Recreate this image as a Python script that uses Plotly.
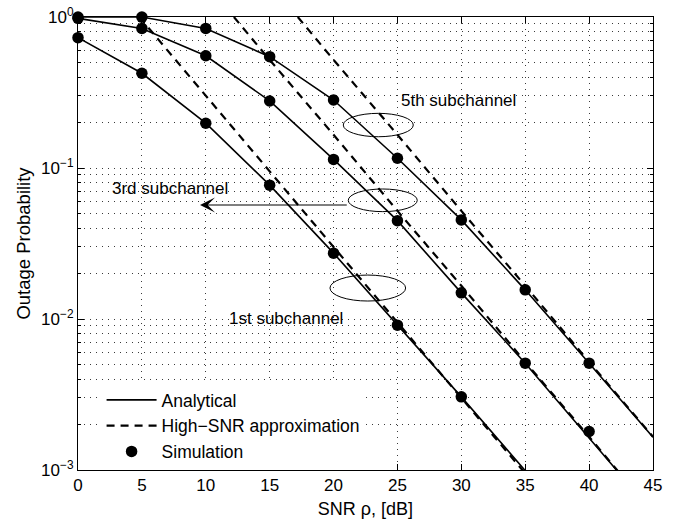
import math
import plotly.graph_objects as go

# ---------------- data ----------------
snr_db = [0, 5, 10, 15, 20, 25, 30, 35, 40, 45]

# Analytical curves
ana_1st_x = [0, 5, 10, 15, 20, 25, 30, 35]
ana_1st = [0.73, 0.424, 0.198, 0.077, 0.0273, 0.0091, 0.00305, 0.00099]
ana_3rd_x = snr_db
ana_3rd = [0.98, 0.84, 0.554, 0.278, 0.114, 0.0448, 0.0149, 0.0051, 0.00163, 0.00052]
ana_5th_x = snr_db
ana_5th = [0.999, 0.999, 0.84, 0.546, 0.282, 0.116, 0.0453, 0.0156, 0.0051, 0.00165]

# High-SNR approximations
hs_1st_x = [4.8, 10, 15, 20, 25, 30, 35]
hs_1st = [1.0, 0.30, 0.095, 0.030, 0.0095, 0.0030, 0.00095]
hs_3rd_x = [12.2, 15, 20, 25, 30, 35, 40, 45]
hs_3rd = [1.0, 0.52, 0.166, 0.052, 0.0166, 0.0052, 0.00166, 0.00052]
hs_5th_x = [17.2, 20, 25, 30, 35, 40, 45]
hs_5th = [1.0, 0.52, 0.166, 0.052, 0.0166, 0.0052, 0.00166]

# Simulation points
sim_1st_x = [0, 5, 10, 15, 20, 25, 30]
sim_1st = [0.73, 0.424, 0.198, 0.077, 0.0273, 0.0091, 0.00305]
sim_3rd_x = [0, 5, 10, 15, 20, 25, 30, 35, 40]
sim_3rd = [0.98, 0.84, 0.554, 0.278, 0.114, 0.0448, 0.0149, 0.0051, 0.0018]
sim_5th_x = [0, 5, 10, 15, 20, 25, 30, 35, 40]
sim_5th = [0.999, 0.999, 0.84, 0.546, 0.282, 0.116, 0.0453, 0.0156, 0.0051]

x_ticks = [0, 5, 10, 15, 20, 25, 30, 35, 40, 45]
y_ticks = [1e-3, 1e-2, 1e-1, 1]
y_ticktext = ["10<sup>−3</sup>", "10<sup>−2</sup>", "10<sup>−1</sup>", "10<sup>0</sup>"]
y_minor = [m * 10.0 ** e for e in (-3, -2, -1) for m in range(2, 10)]

labels = ["1st subchannel", "3rd subchannel", "5th subchannel"]

FONT = "Liberation Sans, Arial, Helvetica, sans-serif"
GRID = "#3a3a3a"

fig = go.Figure()

for i, (xx, yy) in enumerate([(ana_1st_x, ana_1st), (ana_3rd_x, ana_3rd), (ana_5th_x, ana_5th)]):
    fig.add_trace(go.Scatter(x=xx, y=yy, mode="lines", name="Analytical",
                             line=dict(color="black", width=1.6),
                             showlegend=(i == 0), legendrank=1))
for i, (xx, yy) in enumerate([(hs_1st_x, hs_1st), (hs_3rd_x, hs_3rd), (hs_5th_x, hs_5th)]):
    fig.add_trace(go.Scatter(x=xx, y=yy, mode="lines", name="High−SNR approximation",
                             line=dict(color="black", width=2.2, dash="8px,6px"),
                             showlegend=(i == 0), legendrank=2))
for i, (xx, yy) in enumerate([(sim_1st_x, sim_1st), (sim_3rd_x, sim_3rd), (sim_5th_x, sim_5th)]):
    fig.add_trace(go.Scatter(x=xx, y=yy, mode="markers", name="Simulation",
                             marker=dict(color="black", size=11.5, symbol="circle"),
                             cliponaxis=False,
                             showlegend=(i == 0), legendrank=3))


def ydom(v):
    return (math.log10(v) + 3) / 3.0


# ellipses: (x0, x1, y_low, y_high)
ellipses = [
    (19.72, 25.64, 10 ** -1.881, 10 ** -1.709),
    (21.15, 26.55, 10 ** -1.289, 10 ** -1.139),
    (20.76, 26.24, 10 ** -0.793, 10 ** -0.638),
]
for (x0, x1, ylo, yhi) in ellipses:
    fig.add_shape(type="circle", xref="x", yref="y domain",
                  x0=x0, x1=x1, y0=ydom(ylo), y1=ydom(yhi),
                  line=dict(color="black", width=1))

# text labels
text_pos = [(16.26, 10 ** -1.995), (7.2, 10 ** -1.135), (29.8, 10 ** -0.556)]
for lab, (tx, ty) in zip(labels, text_pos):
    fig.add_annotation(x=tx, y=math.log10(ty), xref="x", yref="y", text=lab,
                       showarrow=False, font=dict(family=FONT, size=17, color="black"))

# arrow from 3rd ellipse to the left
fig.add_annotation(x=9.55, y=-1.245, ax=21.15, ay=-1.245, xref="x", yref="y",
                   axref="x", ayref="y", text="", showarrow=True,
                   arrowhead=3, arrowsize=2.5, arrowwidth=1, arrowcolor="black")

fig.update_xaxes(range=[0, 45], tickmode="array", tickvals=x_ticks,
                 ticks="inside", ticklen=6, tickcolor="black",
                 showline=True, linecolor="black", linewidth=1, mirror="allticks",
                 showgrid=True, gridcolor=GRID, gridwidth=1, griddash="1px,5px",
                 zeroline=False, automargin=False,
                 tickfont=dict(family=FONT, size=17, color="black"),
                 title=dict(text="SNR ρ, [dB]", font=dict(family=FONT, size=18, color="black"),
                            standoff=10))
fig.update_yaxes(type="log", range=[-3, 0], tickmode="array", tickvals=y_ticks,
                 ticktext=y_ticktext,
                 ticks="inside", ticklen=6, tickcolor="black",
                 showline=True, linecolor="black", linewidth=1, mirror="allticks",
                 showgrid=True, gridcolor=GRID, gridwidth=1, griddash="1px,5px",
                 zeroline=False, automargin=False,
                 minor=dict(tickmode="array", tickvals=y_minor, ticks="inside", ticklen=3,
                            tickcolor="black", showgrid=True, gridcolor=GRID, gridwidth=1,
                            griddash="1px,5px"),
                 tickfont=dict(family=FONT, size=17, color="black"),
                 title=dict(text="Outage Probability", font=dict(family=FONT, size=18.5, color="black"),
                            standoff=5))

fig.update_layout(
    width=675, height=519,
    margin=dict(l=78, r=22, t=17, b=49, autoexpand=False),
    paper_bgcolor="white", plot_bgcolor="white",
    font=dict(family=FONT, size=17, color="black"),
    legend=dict(x=0.041, y=0.0, xanchor="left", yanchor="bottom",
                bgcolor="white", borderwidth=0, tracegroupgap=0,
                font=dict(family=FONT, size=17.5, color="black"),
                itemwidth=50),
)

fig.write_html("out.html")
